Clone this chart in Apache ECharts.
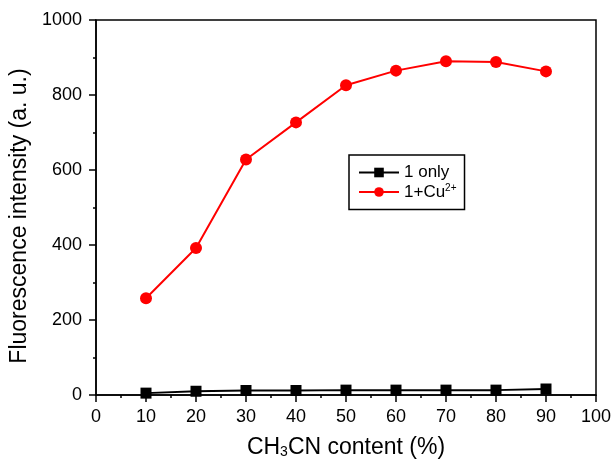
<!DOCTYPE html>
<html>
<head>
<meta charset="utf-8">
<script src="https://cdn.jsdelivr.net/npm/echarts@6/dist/echarts.min.js"></script>
<style>
  html, body { margin: 0; padding: 0; background: #fff; }
  #chart { width: 611px; height: 459px; }
</style>
</head>
<body>
<div id="chart"></div>
<script>
// CH3CN 含量 (%)
let contents = [10, 20, 30, 40, 50, 60, 70, 80, 90];
// 1 only
let onlyValues = [5, 10, 12, 12, 13, 13, 13, 13, 16];
// 1 + Cu2+
let cuValues = [258, 392, 628, 727, 826, 865, 890, 888, 863];
let seriesNames = ['1 only', '1+Cu2+'];

const font = 'Liberation Sans, Arial, sans-serif';

let chartConfig = {
  animation: false,
  grid: {
    left: 96,
    top: 20,
    right: 15,
    bottom: 64,
    containLabel: false,
    outerBoundsMode: 'none',
    show: true,
    borderColor: '#000',
    borderWidth: 1.5
  },
  legend: {
    data: seriesNames,
    orient: 'vertical',
    left: 349,
    top: 155,
    itemWidth: 40,
    itemHeight: 12,
    itemGap: 2,
    padding: [9, 8, 9, 9],
    borderColor: '#000',
    borderWidth: 1.5,
    formatter: function (name) {
      return name === '1+Cu2+' ? '{n|1+Cu}{sup|2+}' : '{n|1 only}';
    },
    textStyle: {
      fontFamily: font,
      color: '#000',
      rich: {
        n: { fontSize: 17, fontFamily: font, color: '#000' },
        sup: { fontSize: 10, fontFamily: font, color: '#000', verticalAlign: 'top', padding: [0, 0, 8, 0] }
      }
    }
  },
  xAxis: {
    type: 'value',
    min: 0,
    max: 100,
    interval: 10,
    name: '{t|CH}{s|3}{t|CN content (%)}',
    nameLocation: 'middle',
    nameGap: 41,
    nameTextStyle: {
      rich: {
        t: { fontSize: 23, fontFamily: font, color: '#000' },
        s: { fontSize: 14, fontFamily: font, color: '#000', verticalAlign: 'bottom', padding: [9, 0, 0, 0] }
      }
    },
    axisLine: { lineStyle: { color: '#000', width: 1.5 } },
    axisTick: { inside: false, length: 7, lineStyle: { color: '#000', width: 1.5 } },
    minorTick: { show: true, splitNumber: 2, length: 3, lineStyle: { color: '#000', width: 1.5 } },
    axisLabel: { fontSize: 18, fontFamily: font, color: '#000', margin: 13, formatter: v => String(v) },
    splitLine: { show: false }
  },
  yAxis: {
    type: 'value',
    min: 0,
    max: 1000,
    interval: 200,
    name: 'Fluorescence intensity (a. u.)',
    nameLocation: 'middle',
    nameGap: 55,
    nameTextStyle: { fontSize: 23, fontFamily: font, color: '#000', padding: [0, 17, 0, 0] },
    axisLine: { show: true, lineStyle: { color: '#000', width: 1.5 } },
    axisTick: { show: true, inside: false, length: 7, lineStyle: { color: '#000', width: 1.5 } },
    minorTick: { show: true, splitNumber: 2, length: 3, lineStyle: { color: '#000', width: 1.5 } },
    axisLabel: { fontSize: 18, fontFamily: font, color: '#000', margin: 14, formatter: v => String(v) },
    splitLine: { show: false }
  },
  series: [
    {
      name: seriesNames[0],
      type: 'line',
      data: contents.map((c, i) => [c, onlyValues[i]]),
      symbol: 'rect',
      symbolSize: 11,
      itemStyle: { color: '#000' },
      lineStyle: { color: '#000', width: 2 }
    },
    {
      name: seriesNames[1],
      type: 'line',
      data: contents.map((c, i) => [c, cuValues[i]]),
      symbol: 'circle',
      symbolSize: 12,
      itemStyle: { color: '#ff0000' },
      lineStyle: { color: '#ff0000', width: 2 }
    }
  ]
};

let chart = echarts.init(document.getElementById('chart'));
chart.setOption(chartConfig);
window.addEventListener('resize', function () {
  chart.resize();
});
</script>
</body>
</html>
